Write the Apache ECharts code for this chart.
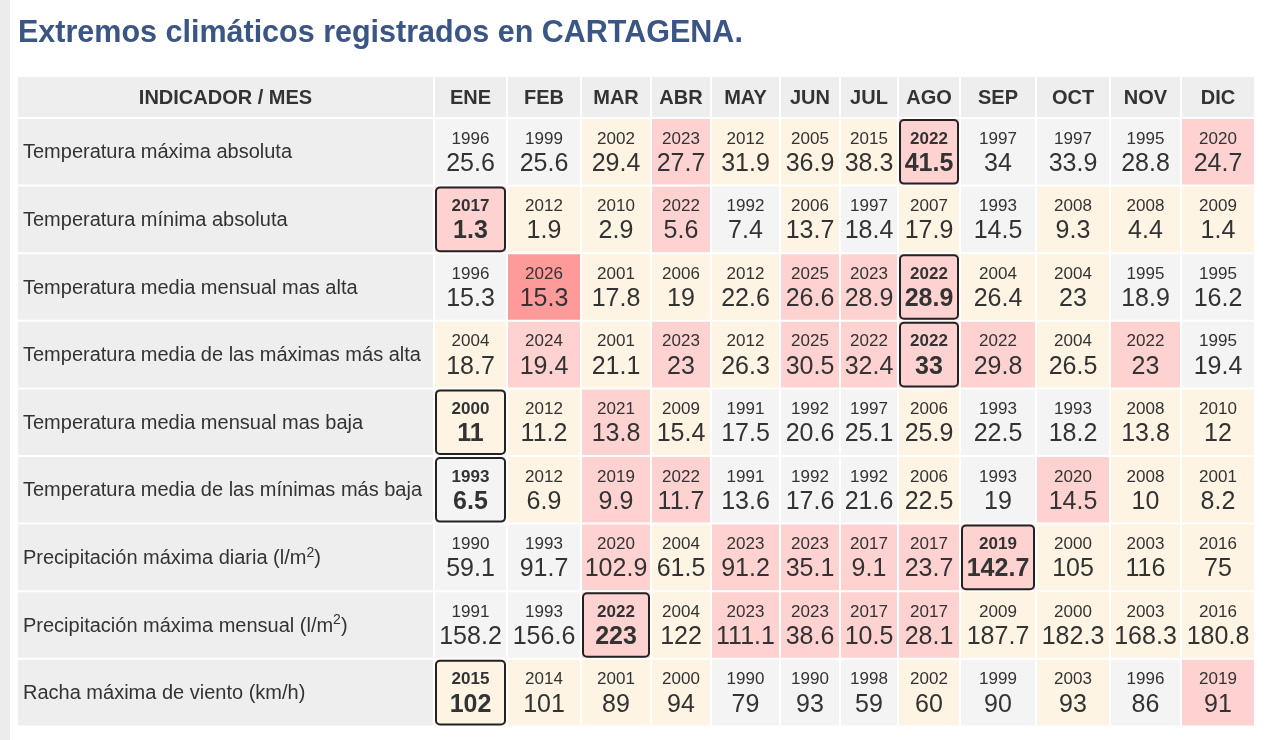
<!DOCTYPE html>
<html>
<head>
<meta charset="utf-8">
<script src="https://cdn.jsdelivr.net/npm/echarts@6/dist/echarts.min.js"></script>
<style>
  html, body { margin: 0; padding: 0; background: #fff; }
  #main { width: 1280px; height: 740px; }
</style>
</head>
<body>
<div id="main"></div>
<script>
// 表格数据
var months = ['ENE', 'FEB', 'MAR', 'ABR', 'MAY', 'JUN', 'JUL', 'AGO', 'SEP', 'OCT', 'NOV', 'DIC'];
var indicators = [
    'Temperatura máxima absoluta',
    'Temperatura mínima absoluta',
    'Temperatura media mensual mas alta',
    'Temperatura media de las máximas más alta',
    'Temperatura media mensual mas baja',
    'Temperatura media de las mínimas más baja',
    'Precipitación máxima diaria (l/m{sup|2})',
    'Precipitación máxima mensual (l/m{sup|2})',
    'Racha máxima de viento (km/h)'
];
var years = [
    [1996, 1999, 2002, 2023, 2012, 2005, 2015, 2022, 1997, 1997, 1995, 2020],
    [2017, 2012, 2010, 2022, 1992, 2006, 1997, 2007, 1993, 2008, 2008, 2009],
    [1996, 2026, 2001, 2006, 2012, 2025, 2023, 2022, 2004, 2004, 1995, 1995],
    [2004, 2024, 2001, 2023, 2012, 2025, 2022, 2022, 2022, 2004, 2022, 1995],
    [2000, 2012, 2021, 2009, 1991, 1992, 1997, 2006, 1993, 1993, 2008, 2010],
    [1993, 2012, 2019, 2022, 1991, 1992, 1992, 2006, 1993, 2020, 2008, 2001],
    [1990, 1993, 2020, 2004, 2023, 2023, 2017, 2017, 2019, 2000, 2003, 2016],
    [1991, 1993, 2022, 2004, 2023, 2023, 2017, 2017, 2009, 2000, 2003, 2016],
    [2015, 2014, 2001, 2000, 1990, 1990, 1998, 2002, 1999, 2003, 1996, 2019]
];
var values = [
    [25.6, 25.6, 29.4, 27.7, 31.9, 36.9, 38.3, 41.5, 34, 33.9, 28.8, 24.7],
    [1.3, 1.9, 2.9, 5.6, 7.4, 13.7, 18.4, 17.9, 14.5, 9.3, 4.4, 1.4],
    [15.3, 15.3, 17.8, 19, 22.6, 26.6, 28.9, 28.9, 26.4, 23, 18.9, 16.2],
    [18.7, 19.4, 21.1, 23, 26.3, 30.5, 32.4, 33, 29.8, 26.5, 23, 19.4],
    [11, 11.2, 13.8, 15.4, 17.5, 20.6, 25.1, 25.9, 22.5, 18.2, 13.8, 12],
    [6.5, 6.9, 9.9, 11.7, 13.6, 17.6, 21.6, 22.5, 19, 14.5, 10, 8.2],
    [59.1, 91.7, 102.9, 61.5, 91.2, 35.1, 9.1, 23.7, 142.7, 105, 116, 75],
    [158.2, 156.6, 223, 122, 111.1, 38.6, 10.5, 28.1, 187.7, 182.3, 168.3, 180.8],
    [102, 101, 89, 94, 79, 93, 59, 60, 90, 93, 86, 91]
];
// 每行记录值所在的月份
var recordMonth = [7, 0, 7, 7, 0, 0, 8, 2, 0];

// 布局（列宽、行高）
var colW = [417, 73, 74, 70, 60, 69, 60, 58, 62, 76, 74, 71, 74];
var rowH = [42, 67.6, 67.6, 67.6, 67.6, 67.6, 67.6, 67.6, 67.6, 67.6];
var FONT = '"Liberation Sans", Arial, sans-serif';
var TXT = '#333';

function edges(arr) {
    var out = [0];
    arr.forEach(function (w) { out.push(out[out.length - 1] + w); });
    return out;
}
var colEdge = edges(colW);
var rowEdge = edges(rowH);

// 按年份取单元格颜色
function yearColor(y) {
    if (y >= 2026) return '#ff9a9a';
    if (y >= 2017) return '#ffd2d2';
    if (y >= 2000) return '#fdf4e4';
    return '#f4f4f4';
}

var cells = [];
for (var r = 0; r < rowH.length; r++) {
    for (var c = 0; c < colW.length; c++) {
        cells.push([c, r]);
    }
}

function renderCell(params, api) {
    var c = api.value(0), r = api.value(1);
    var p0 = api.coord([colEdge[c], rowEdge[r]]);
    var p1 = api.coord([colEdge[c + 1], rowEdge[r + 1]]);
    var x = p0[0], y = p0[1];
    var w = p1[0] - p0[0] - 2, h = p1[1] - p0[1] - 2;
    var children = [];
    var fill = '#eeeeee';
    var m = c - 1, k = r - 1;
    if (r > 0 && c > 0) fill = yearColor(years[k][m]);
    children.push({ type: 'rect', shape: { x: x, y: y, width: w, height: h }, style: { fill: fill } });

    if (r === 0) {
        children.push({
            type: 'text',
            style: {
                x: x + w / 2, y: y + h / 2 + 1, text: c === 0 ? 'INDICADOR / MES' : months[m],
                align: 'center', verticalAlign: 'middle', fill: TXT,
                fontSize: 20, fontWeight: 'bold', fontFamily: FONT
            }
        });
    } else if (c === 0) {
        children.push({
            type: 'text',
            style: {
                x: x + 5, y: y + h / 2 + 1, text: indicators[k],
                align: 'left', verticalAlign: 'middle', fill: TXT,
                fontSize: 20, fontFamily: FONT,
                rich: { sup: { fontSize: 14, fontFamily: FONT, fill: TXT, padding: [0, 0, 11, 0] } }
            }
        });
    } else {
        var rec = recordMonth[k] === m;
        if (rec) {
            children.push({
                type: 'rect',
                shape: { x: x + 1, y: y + 1, width: w - 2, height: h - 2, r: 4 },
                style: { fill: 'none', stroke: '#222', lineWidth: 2 }
            });
        }
        children.push({
            type: 'text',
            style: {
                x: x + w / 2, y: y + 20, text: String(years[k][m]),
                align: 'center', verticalAlign: 'middle', fill: TXT,
                fontSize: 17, fontWeight: rec ? 'bold' : 'normal', fontFamily: FONT
            }
        });
        children.push({
            type: 'text',
            style: {
                x: x + w / 2, y: y + 45, text: String(values[k][m]),
                align: 'center', verticalAlign: 'middle', fill: TXT,
                fontSize: 25, fontWeight: rec ? 'bold' : 'normal', fontFamily: FONT
            }
        });
    }
    return { type: 'group', children: children };
}

var myChart = echarts.init(document.getElementById('main'));
myChart.setOption({
    animation: false,
    title: {
        text: 'Extremos climáticos registrados en CARTAGENA.',
        left: 18,
        top: 18,
        padding: 0,
        textStyle: { fontSize: 30.5, fontWeight: 'bold', color: '#3b5584', fontFamily: FONT }
    },
    graphic: [{
        type: 'rect', left: 0, top: 0, shape: { width: 10, height: 740 }, style: { fill: '#ececec' }
    }],
    grid: { left: 18, top: 77, width: colEdge[colEdge.length - 1], height: rowEdge[rowEdge.length - 1] },
    xAxis: { type: 'value', min: 0, max: colEdge[colEdge.length - 1], show: false },
    yAxis: { type: 'value', min: 0, max: rowEdge[rowEdge.length - 1], inverse: true, show: false },
    series: [{
        type: 'custom',
        coordinateSystem: 'cartesian2d',
        renderItem: renderCell,
        data: cells,
        clip: false,
        silent: true
    }]
});
</script>
</body>
</html>
